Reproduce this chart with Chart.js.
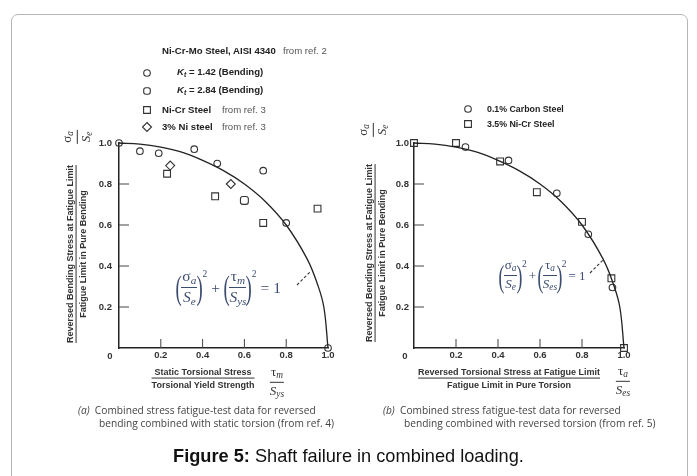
<!DOCTYPE html>
<html>
<head>
<meta charset="utf-8">
<script src="https://cdn.jsdelivr.net/npm/chart.js@4"></script>
<style>
  body { margin: 0; background: #fff; }
  #page { position: relative; width: 697px; height: 476px; overflow: hidden; background: #fff; }
  #frame { position: absolute; left: 11px; top: 14px; width: 675px; height: 500px;
           border: 1px solid #b5b5b5; border-radius: 7px; }
  .box { position: absolute; top: 0; }
  .t { position: absolute; white-space: nowrap; transform: translateY(-50%); line-height: 1;
       font-family: 'Liberation Sans', Arial, sans-serif; color: #222; }
  .lg { font-size: 9.6px; font-weight: bold; }
  .ref { font-size: 9.6px; color: #555; }
  .lgb { font-size: 8.8px; font-weight: bold; }
  .fr { position: absolute; display: inline-flex; flex-direction: column; align-items: center;
        transform: translate(-50%, -50%); font: bold 9px 'Liberation Sans', Arial, sans-serif;
        color: #333; white-space: nowrap; line-height: 1.05; }
  .fr > span:first-child { align-self: stretch; text-align: center; border-bottom: 1px solid #333; padding-bottom: 1px; }
  .fr > span:last-child { padding-top: 2px; }
  .sf { position: absolute; display: inline-flex; flex-direction: column; align-items: center;
        transform: translate(-50%, -50%); font: 13px 'Liberation Serif', 'DejaVu Serif', serif;
        color: #333; line-height: 1; }
  .sf > span:first-child { align-self: stretch; text-align: center; border-bottom: 1px solid #333; padding: 0 1px 1px; }
  .sf > span:last-child { padding-top: 1px; }
  .fr.rot, .sf.rot { transform: translate(-50%, -50%) rotate(-90deg); }
  .eq { position: absolute; display: flex; align-items: center; font-family: 'Liberation Serif', 'DejaVu Serif', serif;
        color: #3b4c70; font-size: 15.5px; white-space: nowrap; }
  .eq .p { font-size: 34px; line-height: 1; transform: scaleX(0.55); display: inline-block; margin: 0 -3px; }
  .eq .f { display: inline-flex; flex-direction: column; align-items: center; line-height: 1.05; }
  .eq .f > span:first-child { border-bottom: 1px solid #3b4c70; padding: 0 1px 1px; align-self: stretch; text-align: center; }
  .eq .f > span:last-child { padding-top: 1px; }
  .eq sup { align-self: flex-start; font-size: 9.5px; margin-top: 1px; }
  .eq .op { margin: 0 4px; }
  .eq.small { font-size: 13px; }
  .eq.small .p { font-size: 32px; }
  .eq.small .op { margin: 0 2px; }
  sub { font-size: 0.72em; vertical-align: -0.25em; }
  .cap { position: absolute; white-space: nowrap; font: 10.2px 'Open Sans', sans-serif; color: #444; line-height: 1; }
  #fig { position: absolute; left: 0; width: 697px; top: 446px; text-align: center;
         font: 18.2px 'Liberation Sans', Arial, sans-serif; color: #111; }
</style>
</head>
<body>
<div id="page">
  <div id="frame"></div>
  <div class="box" style="left:0;width:348px;height:476px"><canvas id="chartA" width="348" height="476"></canvas></div>
  <div class="box" style="left:348px;width:349px;height:476px"><canvas id="chartB" width="349" height="476"></canvas></div>

  <!-- panel (a) legend -->
  <div class="t lg" style="left:162px;top:51px">Ni-Cr-Mo Steel, AISI 4340</div>
  <div class="t ref" style="left:283px;top:51px">from ref. 2</div>
  <div class="t lg" style="left:177px;top:73px"><i>K</i><sub><i>t</i></sub> = 1.42 (Bending)</div>
  <div class="t lg" style="left:177px;top:91px"><i>K</i><sub><i>t</i></sub> = 2.84 (Bending)</div>
  <div class="t lg" style="left:162px;top:110px">Ni-Cr Steel</div>
  <div class="t ref" style="left:222px;top:110px">from ref. 3</div>
  <div class="t lg" style="left:162px;top:127px">3% Ni steel</div>
  <div class="t ref" style="left:222px;top:127px">from ref. 3</div>

  <!-- panel (b) legend -->
  <div class="t lgb" style="left:487px;top:109px">0.1% Carbon Steel</div>
  <div class="t lgb" style="left:487px;top:124px">3.5% Ni-Cr Steel</div>

  <!-- axis titles (a) -->
  <div class="fr rot" style="left:77px;top:254px"><span>Reversed Bending Stress at Fatigue Limit</span><span>Fatigue Limit in Pure Bending</span></div>
  <div class="sf rot" style="left:77px;top:137px"><span>σ<sub><i>a</i></sub></span><span><i>S<sub>e</sub></i></span></div>
  <div class="fr" style="left:203px;top:379px"><span>Static Torsional Stress</span><span>Torsional Yield Strength</span></div>
  <div class="sf" style="left:277px;top:382px"><span>τ<sub><i>m</i></sub></span><span><i>S<sub>ys</sub></i></span></div>

  <!-- axis titles (b) -->
  <div class="fr rot" style="left:376px;top:253px"><span>Reversed Bending Stress at Fatigue Limit</span><span>Fatigue Limit in Pure Bending</span></div>
  <div class="sf rot" style="left:373px;top:130px"><span>σ<sub><i>a</i></sub></span><span><i>S<sub>e</sub></i></span></div>
  <div class="fr" style="left:509px;top:379px"><span>Reversed Torsional Stress at Fatigue Limit</span><span>Fatigue Limit in Pure Torsion</span></div>
  <div class="sf" style="left:623px;top:381px"><span>τ<sub><i>a</i></sub></span><span><i>S<sub>es</sub></i></span></div>

  <!-- equations -->
  <div class="eq" style="left:176px;top:268px">
    <span class="p">(</span><span class="f"><span>σ<sub><i>a</i></sub></span><span><i>S<sub>e</sub></i></span></span><span class="p">)</span><sup>2</sup>
    <span class="op">+</span>
    <span class="p">(</span><span class="f"><span>τ<sub><i>m</i></sub></span><span><i>S<sub>ys</sub></i></span></span><span class="p">)</span><sup>2</sup>
    <span class="op">= 1</span>
  </div>
  <div class="eq small" style="left:499px;top:258px">
    <span class="p">(</span><span class="f"><span>σ<sub><i>a</i></sub></span><span><i>S<sub>e</sub></i></span></span><span class="p">)</span><sup>2</sup>
    <span class="op">+</span>
    <span class="p">(</span><span class="f"><span>τ<sub><i>a</i></sub></span><span><i>S<sub>es</sub></i></span></span><span class="p">)</span><sup>2</sup>
    <span class="op">= 1</span>
  </div>

  <!-- sub-captions -->
  <div class="cap" style="left:78px;top:405px"><i>(a)</i>&nbsp; Combined stress fatigue-test data for reversed</div>
  <div class="cap" style="left:99px;top:418px">bending combined with static torsion (from ref. 4)</div>
  <div class="cap" style="left:383px;top:405px"><i>(b)</i>&nbsp; Combined stress fatigue-test data for reversed</div>
  <div class="cap" style="left:404px;top:418px">bending combined with reversed torsion (from ref. 5)</div>

  <div id="fig"><b>Figure 5:</b> Shaft failure in combined loading.</div>
</div>

<script>
// axis ticks (both panels)
const tickValues = [0, 0.2, 0.4, 0.6, 0.8, 1.0];
const tickLabels = ['0', '0.2', '0.4', '0.6', '0.8', '1.0'];

// fitted curve (same in both panels)
const curveX = [0, 0.1, 0.2, 0.3, 0.4, 0.5, 0.6, 0.7, 0.8, 0.9, 0.95, 0.98, 1.0];
const curveY = [1.0, 0.995, 0.98, 0.955, 0.915, 0.865, 0.80, 0.715, 0.60, 0.435, 0.31, 0.20, 0];

// panel (a): reversed bending + static torsion
const kt142X = [0, 0.10, 0.19, 0.36, 0.47, 0.69, 0.80, 1.0];
const kt142Y = [1.0, 0.96, 0.95, 0.97, 0.90, 0.865, 0.61, 0];
const kt284X = [0.60];
const kt284Y = [0.72];
const niCrX = [0.23, 0.46, 0.69, 0.95];
const niCrY = [0.85, 0.74, 0.61, 0.68];
const ni3X = [0.245, 0.535];
const ni3Y = [0.89, 0.80];

// panel (b): reversed bending + reversed torsion
const carbonX = [0.245, 0.45, 0.68, 0.83, 0.945];
const carbonY = [0.98, 0.915, 0.755, 0.555, 0.295];
const niCr35X = [0, 0.20, 0.41, 0.585, 0.80, 0.94, 1.0];
const niCr35Y = [1.0, 1.0, 0.91, 0.76, 0.615, 0.34, 0];

const ink = '#333';

function pts(xs, ys) {
  return xs.map((x, i) => ({ x: x, y: ys[i] }));
}

function markerSet(xs, ys, style, radius) {
  return {
    data: pts(xs, ys),
    showLine: false,
    pointStyle: style,
    pointRadius: radius,
    borderColor: ink,
    backgroundColor: 'rgba(0,0,0,0)',
    borderWidth: 1.1,
    clip: false
  };
}

function curveSet() {
  return {
    data: pts(curveX, curveY),
    showLine: true,
    pointRadius: 0,
    borderColor: '#222',
    borderWidth: 1.3,
    tension: 0.4,
    clip: false
  };
}

// small open markers for the hand-placed legends
function drawMarker(ctx, style, x, y) {
  ctx.beginPath();
  if (style === 'circle') ctx.arc(x, y, 3.3, 0, Math.PI * 2);
  else if (style === 'rect') ctx.rect(x - 3.4, y - 3.4, 6.8, 6.8);
  else if (style === 'rectRot') { ctx.moveTo(x, y - 4.5); ctx.lineTo(x + 4.5, y); ctx.lineTo(x, y + 4.5); ctx.lineTo(x - 4.5, y); ctx.closePath(); }
  else ctx.roundRect(x - 3.3, y - 3.3, 6.6, 6.6, 2.2);
  ctx.stroke();
}

// inward tick marks, shared "0", leader line and legend symbols
function extrasPlugin(legend, leader) {
  return {
    id: 'extras',
    afterDraw(chart) {
      const ctx = chart.ctx;
      const a = chart.chartArea;
      const xs = chart.scales.x, ys = chart.scales.y;
      ctx.save();
      ctx.strokeStyle = '#444';
      ctx.lineWidth = 1;
      tickValues.slice(1, 5).forEach(v => {
        const py = ys.getPixelForValue(v);
        ctx.beginPath(); ctx.moveTo(a.left, py); ctx.lineTo(a.left + 10, py); ctx.stroke();
        const px = xs.getPixelForValue(v);
        ctx.beginPath(); ctx.moveTo(px, a.bottom); ctx.lineTo(px, a.bottom - 9); ctx.stroke();
      });
      ctx.fillStyle = ink;
      ctx.font = 'bold 9.5px "Liberation Sans", Arial';
      ctx.textAlign = 'center';
      ctx.textBaseline = 'middle';
      ctx.fillText(tickLabels[0], a.left - 9, a.bottom + 8);

      ctx.strokeStyle = ink;
      ctx.lineWidth = 1.1;
      legend.forEach(m => drawMarker(ctx, m[0], m[1], m[2]));

      ctx.setLineDash([3, 2]);
      ctx.beginPath(); ctx.moveTo(leader[0], leader[1]); ctx.lineTo(leader[2], leader[3]); ctx.stroke();
      ctx.restore();
    }
  };
}

function makeChart(id, datasets, yWidth, padRight, labelPad, legend, leader) {
  return new Chart(document.getElementById(id), {
    type: 'scatter',
    data: { datasets: datasets },
    options: {
      responsive: false,
      animation: false,
      devicePixelRatio: 1,
      layout: { padding: { left: 0, top: 143, right: padRight, bottom: 0 } },
      plugins: { legend: { display: false }, tooltip: { enabled: false } },
      scales: {
        x: {
          type: 'linear', min: 0, max: 1,
          afterBuildTicks: s => { s.ticks = tickValues.map(v => ({ value: v })); },
          afterFit: s => { s.height = 128; },
          grid: { display: false, drawTicks: false },
          border: { display: true, color: '#222', width: 1.5 },
          ticks: {
            padding: 2, color: ink, maxRotation: 0,
            font: { family: 'Liberation Sans', size: 9.5, weight: 'bold' },
            callback: (v, i) => (i === 0 ? '' : tickLabels[i])
          }
        },
        y: {
          type: 'linear', min: 0, max: 1,
          afterBuildTicks: s => { s.ticks = tickValues.map(v => ({ value: v })); },
          afterFit: s => { s.width = yWidth; },
          grid: { display: false, drawTicks: false },
          border: { display: true, color: '#222', width: 1.5 },
          ticks: {
            padding: labelPad, color: ink,
            font: { family: 'Liberation Sans', size: 9.5, weight: 'bold' },
            callback: (v, i) => (i === 0 ? '' : tickLabels[i])
          }
        }
      }
    },
    plugins: [extrasPlugin(legend, leader)]
  });
}

window.onload = function() {
  makeChart('chartA', [
    curveSet(),
    markerSet(kt142X, kt142Y, 'circle', 3.3),
    markerSet(kt284X, kt284Y, 'rectRounded', 4.6),
    markerSet(niCrX, niCrY, 'rect', 4.8),
    markerSet(ni3X, ni3Y, 'rectRot', 4.5)
  ], 119, 20, 7,
  [['circle', 147, 73], ['rectRounded', 147, 91], ['rect', 147, 110], ['rectRot', 147, 127]],
  [297, 285, 310, 272]);

  makeChart('chartB', [
    curveSet(),
    markerSet(carbonX, carbonY, 'circle', 3.3),
    markerSet(niCr35X, niCr35Y, 'rect', 4.8)
  ], 66, 73, 5,
  [['circle', 120, 109], ['rect', 120, 124]],
  [242, 273, 255, 260]);
};
</script>
</body>
</html>
